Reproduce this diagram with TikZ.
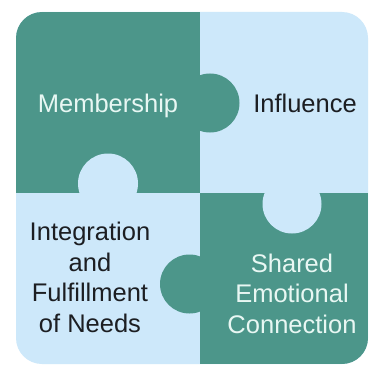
\documentclass[tikz,border=0pt]{standalone}
\usepackage{fontspec}
\setmainfont{Liberation Sans}
\definecolor{teal1}{RGB}{76,150,138}
\definecolor{lblue}{RGB}{205,232,250}
\definecolor{lighttxt}{RGB}{232,247,243}
\definecolor{darktxt}{RGB}{28,30,34}
\begin{document}
\begin{tikzpicture}[x=1pt,y=-1pt,
  lbl/.style={inner sep=0pt, font=\fontsize{25.5}{30.7}\selectfont, align=center},
  onteal/.style={lbl, text=lighttxt},
  onblue/.style={lbl, text=darktxt}]
\useasboundingbox (0,0) rectangle (375,369);
\fill[white] (0,0) rectangle (375,369);
\fill[lblue, rounded corners=26pt] (16,12) rectangle (368,364);
\begin{scope}
  \clip[rounded corners=26pt] (16,12) rectangle (368,364);
  % top-left piece: Membership
  \fill[teal1] (16,12) rectangle (200,193);
  \fill[teal1] (210,103) circle[radius=29.5];
  \fill[lblue] (108,183.5) circle[radius=30];
  % bottom-right piece: Shared Emotional Connection
  \fill[teal1] (200,193) rectangle (368,364);
  \fill[teal1] (189.5,284) circle[radius=29.5];
  \fill[lblue] (292,204) circle[radius=29.5];
\end{scope}
\node[onteal, anchor=base] (mem) at (108,112) {Membership};
\node[onblue, anchor=base] (inf) at (305,112) {Influence};
\node[onblue, anchor=north] (int) at (90,221.7) {Integration\\and\\Fulfillment\\of Needs};
\node[onteal, anchor=north] (sec) at (292,253.4) {Shared\\Emotional\\Connection};
\end{tikzpicture}
\end{document}
